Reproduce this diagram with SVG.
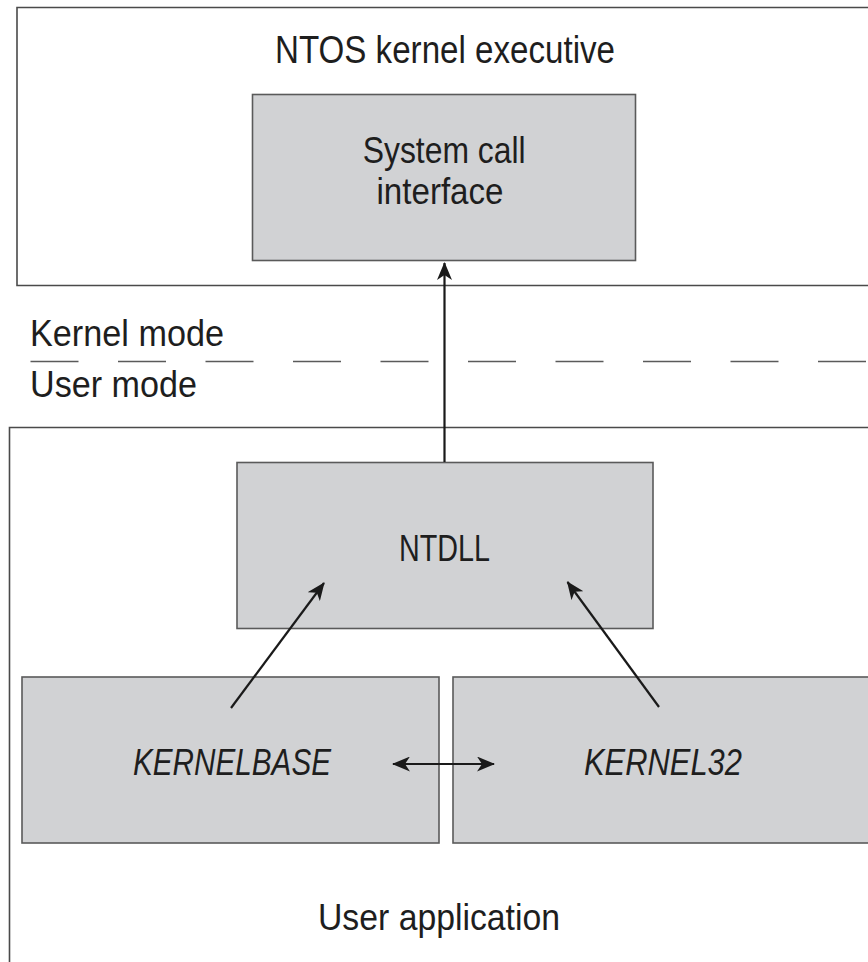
<svg xmlns="http://www.w3.org/2000/svg" width="868" height="962" viewBox="0 0 868 962">
<defs>
<marker id="ah" viewBox="0 0 18 15" refX="17" refY="7.5" markerWidth="18" markerHeight="15" markerUnits="userSpaceOnUse" orient="auto-start-reverse">
<path d="M0,0 L18,7.5 L0,15 L5,7.5 Z" fill="#1a1a1a"/>
</marker>
</defs>
<style>
.frame{fill:none;stroke:#4a4a4a;stroke-width:1.6}
.box{fill:#d1d2d4;stroke:#5a5a5a;stroke-width:1.6}
.t{font-family:"Liberation Sans",Arial,sans-serif;font-size:36px;fill:#1e1e1e}
.it{font-style:italic}
.conn{stroke:#1a1a1a;stroke-width:2.2;fill:none}
.dash{stroke:#5a5a5a;stroke-width:1.6;stroke-dasharray:48 39.5;fill:none}
</style>
<rect width="868" height="962" fill="#ffffff"/>

<g id="kernel-executive">
<path class="frame" d="M870 7.5 H17 V285.5 H870"/>
<text class="t" x="275" y="62.5" style="font-size:38px" textLength="340" lengthAdjust="spacingAndGlyphs">NTOS kernel executive</text>
</g>

<g id="system-call-interface">
<rect class="box" x="252.5" y="94.5" width="383" height="166"/>
<text class="t" x="362.7" y="163" textLength="163" lengthAdjust="spacingAndGlyphs">System call</text>
<text class="t" x="376.5" y="204" textLength="127" lengthAdjust="spacingAndGlyphs">interface</text>
</g>

<g id="mode-boundary">
<text class="t" x="30" y="346" textLength="194" lengthAdjust="spacingAndGlyphs">Kernel mode</text>
<line class="dash" x1="30.5" y1="361.5" x2="868" y2="361.5"/>
<text class="t" x="30" y="397" textLength="167" lengthAdjust="spacingAndGlyphs">User mode</text>
</g>

<g id="user-application">
<path class="frame" d="M870 427.5 H9.5 V964"/>
<text class="t" x="318" y="930" textLength="242" lengthAdjust="spacingAndGlyphs">User application</text>
</g>

<g id="ntdll">
<rect class="box" x="237" y="462.5" width="416" height="166"/>
<text class="t" x="399" y="561" textLength="91" lengthAdjust="spacingAndGlyphs">NTDLL</text>
</g>

<g id="kernelbase">
<rect class="box" x="22" y="677" width="417" height="166"/>
<text class="t it" x="133" y="775" textLength="198" lengthAdjust="spacingAndGlyphs">KERNELBASE</text>
</g>

<g id="kernel32">
<rect class="box" x="453" y="677" width="420" height="166"/>
<text class="t it" x="584" y="775" textLength="158" lengthAdjust="spacingAndGlyphs">KERNEL32</text>
</g>

<g id="connectors">
<line class="conn" x1="444.5" y1="462" x2="444.5" y2="263" marker-end="url(#ah)"/>
<line class="conn" x1="231" y1="708" x2="324" y2="583" marker-end="url(#ah)"/>
<line class="conn" x1="659" y1="707" x2="567.5" y2="582" marker-end="url(#ah)"/>
<line class="conn" x1="393" y1="764" x2="494" y2="764" marker-start="url(#ah)" marker-end="url(#ah)"/>
</g>
</svg>
